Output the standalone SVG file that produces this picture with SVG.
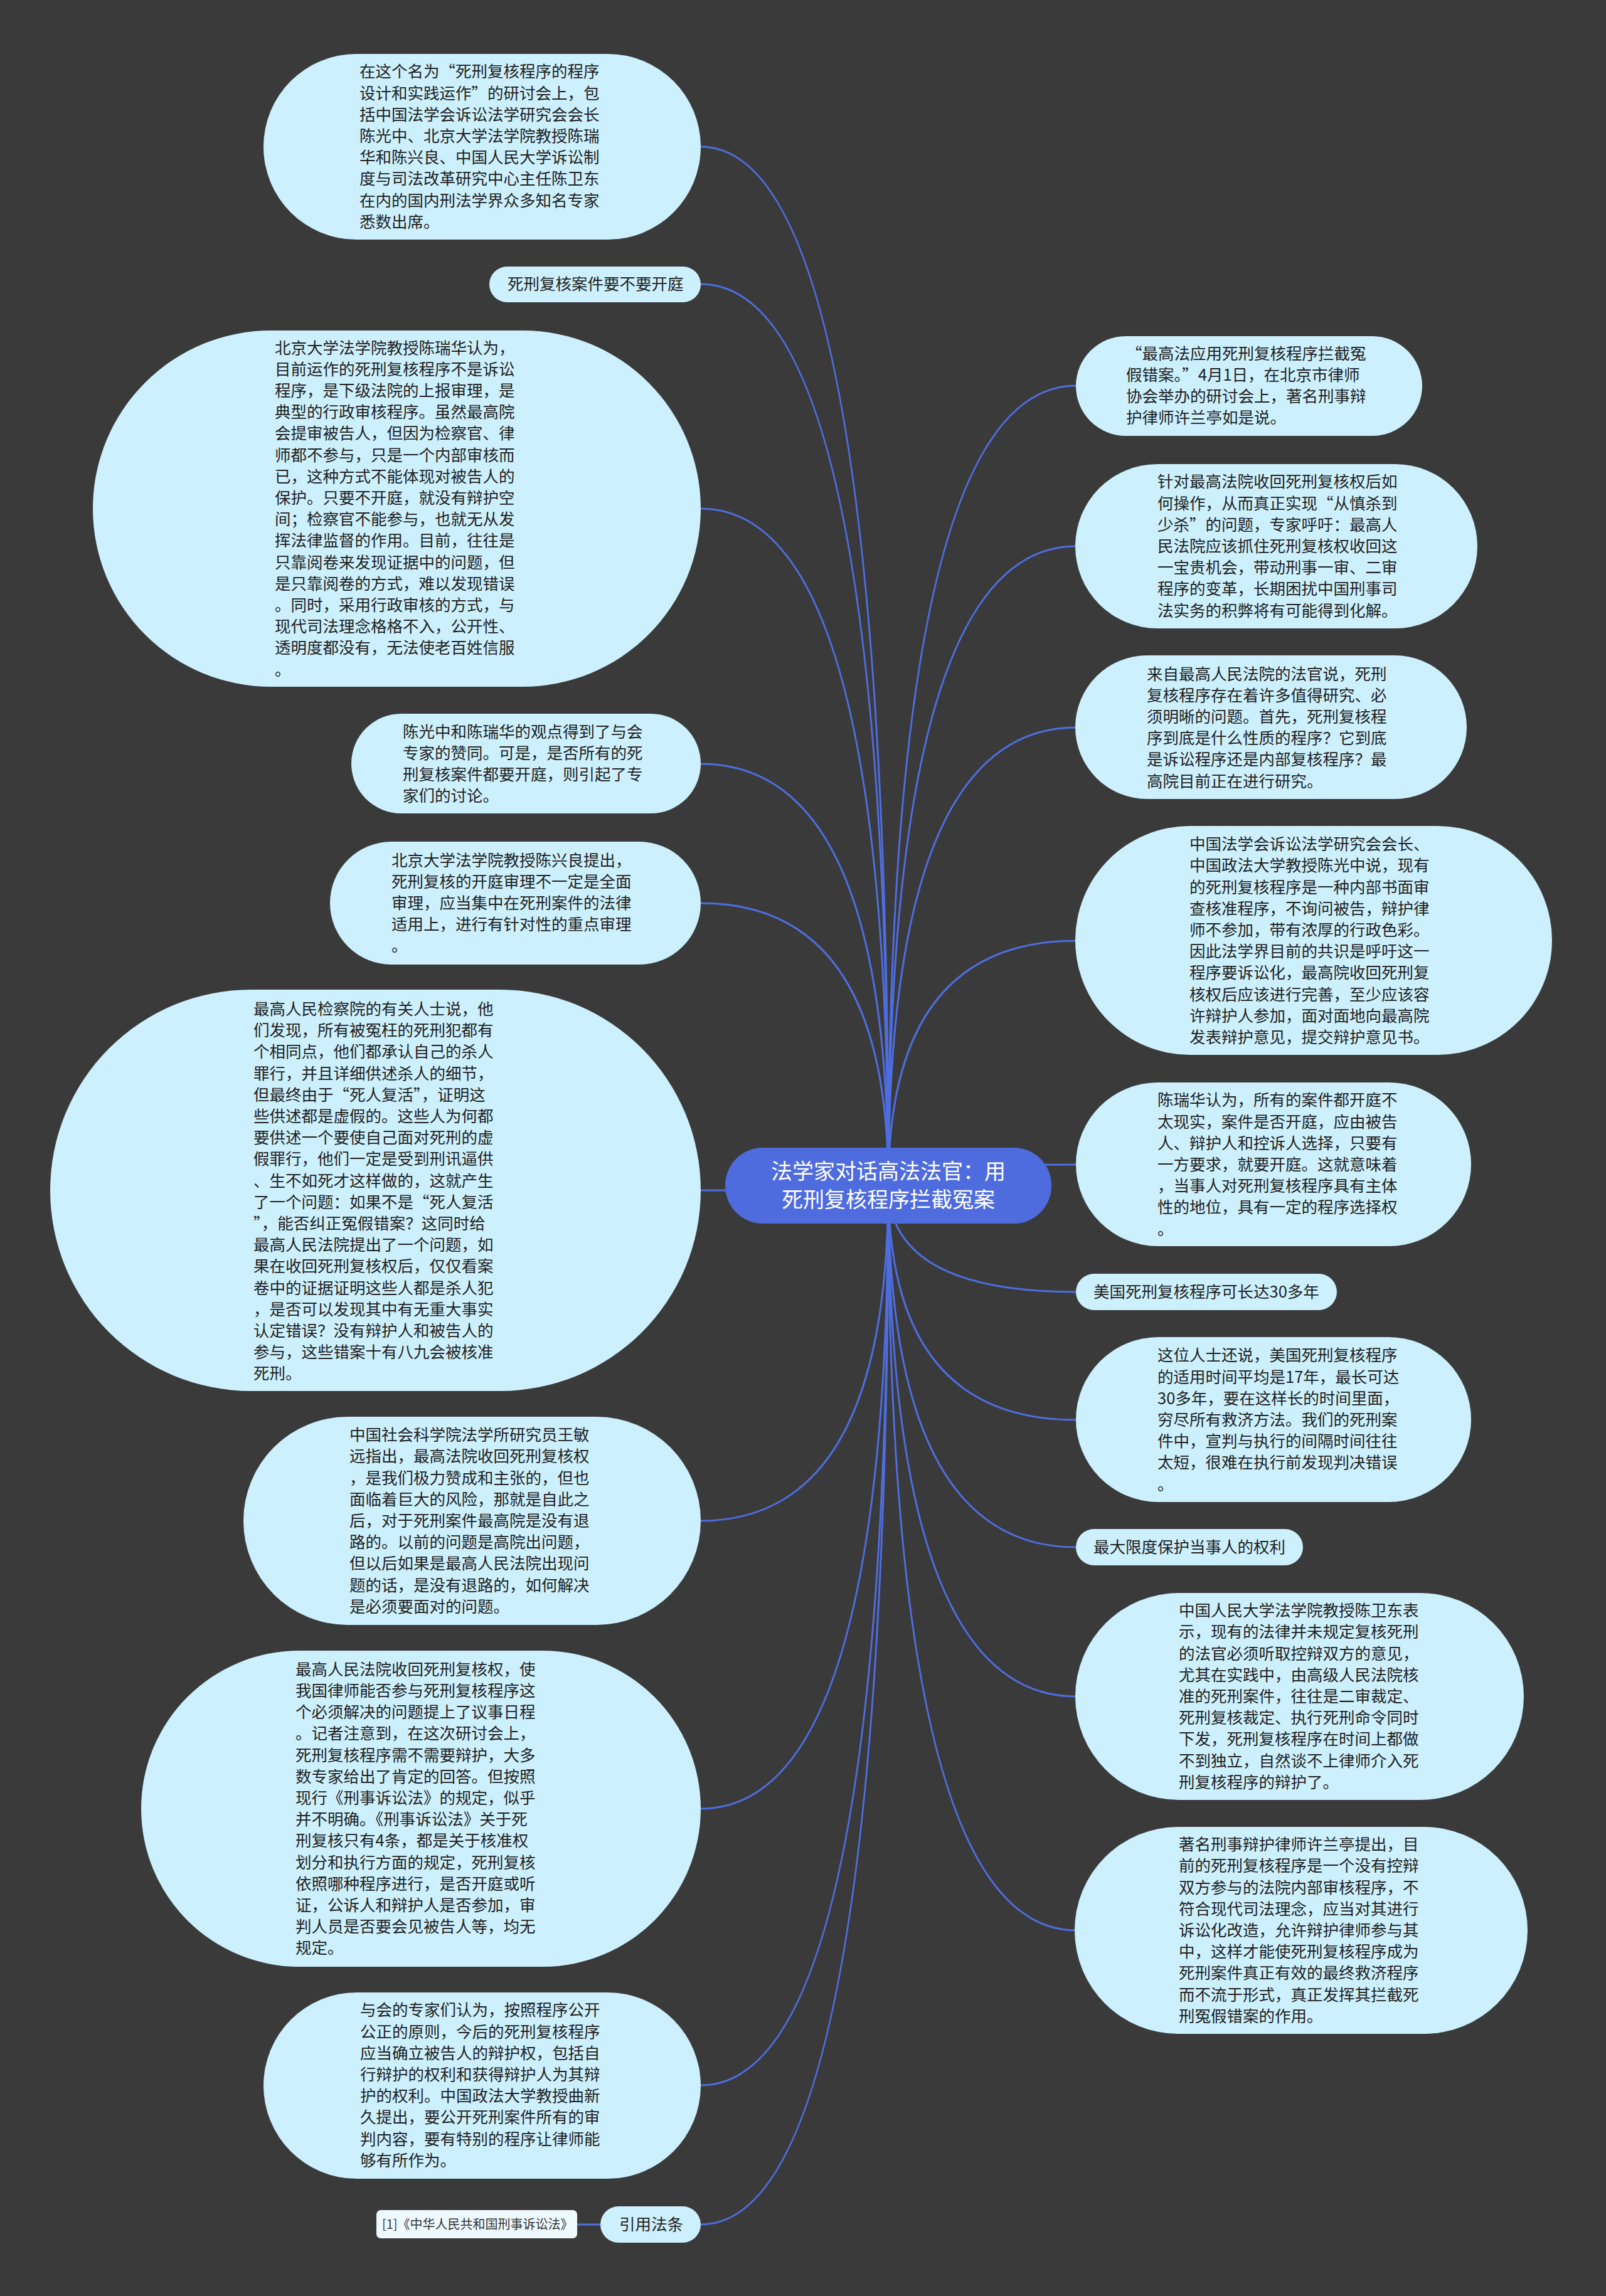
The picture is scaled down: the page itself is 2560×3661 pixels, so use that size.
<svg xmlns="http://www.w3.org/2000/svg" width="2560" height="3661" viewBox="0 0 2560 3661">
<style>
.n{fill:#ccf0fd}
.t{font-family:"Noto Sans CJK SC","Noto Sans",sans-serif;font-size:25.5px;fill:#222}
.ct{font-family:"Noto Sans CJK SC","Noto Sans",sans-serif;font-size:34px;fill:#fff;text-anchor:middle}
.c{fill:none;stroke:#4e6ee0;stroke-width:3}
</style>
<rect width="2560" height="3661" fill="#3a3a3a"/>
<g id="connectors">
<path class="c" d="M1416 1890 Q1416 234 1117 234"/>
<path class="c" d="M1416 1890 Q1416 453 1117 453"/>
<path class="c" d="M1416 1890 Q1416 811 1117 811"/>
<path class="c" d="M1416 1890 Q1416 1218 1117 1218"/>
<path class="c" d="M1416 1890 Q1416 1440 1117 1440"/>
<path class="c" d="M1416 1890 Q1416 1898 1117 1898"/>
<path class="c" d="M1416 1890 Q1416 2425 1117 2425"/>
<path class="c" d="M1416 1890 Q1416 2884 1117 2884"/>
<path class="c" d="M1416 1890 Q1416 3325 1117 3325"/>
<path class="c" d="M1416 1890 Q1416 3547 1117 3547"/>
<path class="c" d="M1416 1890 Q1416 615 1715 615"/>
<path class="c" d="M1416 1890 Q1416 871 1715 871"/>
<path class="c" d="M1416 1890 Q1416 1160 1715 1160"/>
<path class="c" d="M1416 1890 Q1416 1500 1715 1500"/>
<path class="c" d="M1416 1890 Q1416 1857 1715 1857"/>
<path class="c" d="M1416 1890 Q1416 2060 1715 2060"/>
<path class="c" d="M1416 1890 Q1416 2264 1715 2264"/>
<path class="c" d="M1416 1890 Q1416 2467 1715 2467"/>
<path class="c" d="M1416 1890 Q1416 2705 1715 2705"/>
<path class="c" d="M1416 1890 Q1416 3078 1715 3078"/>
<path class="c" d="M957 3547 L920 3547"/>
</g>
<g id="center">
<rect x="1156" y="1830" width="520" height="121" rx="60" fill="#4e6cdd"/>
<text class="ct" x="1416" y="1880">法学家对话高法法官：用</text>
<text class="ct" x="1416" y="1925">死刑复核程序拦截冤案</text>
</g>
<g id="L1">
<rect class="n" x="420" y="86" width="697" height="296" rx="148"/>
<text class="t" x="573" y="123.3"><tspan x="573">在这个名为“死刑复核程序的程序</tspan><tspan x="573" dy="34.2">设计和实践运作”的研讨会上，包</tspan><tspan x="573" dy="34.2">括中国法学会诉讼法学研究会会长</tspan><tspan x="573" dy="34.2">陈光中、北京大学法学院教授陈瑞</tspan><tspan x="573" dy="34.2">华和陈兴良、中国人民大学诉讼制</tspan><tspan x="573" dy="34.2">度与司法改革研究中心主任陈卫东</tspan><tspan x="573" dy="34.2">在内的国内刑法学界众多知名专家</tspan><tspan x="573" dy="34.2">悉数出席。</tspan></text>
</g>
<g id="L2">
<rect class="n" x="780" y="425" width="337" height="57" rx="28.5"/>
<text class="t" x="809" y="462">死刑复核案件要不要开庭</text>
</g>
<g id="L3">
<rect class="n" x="148" y="527" width="969" height="568" rx="284"/>
<text class="t" x="438" y="563.5"><tspan x="438">北京大学法学院教授陈瑞华认为，</tspan><tspan x="438" dy="34.2">目前运作的死刑复核程序不是诉讼</tspan><tspan x="438" dy="34.2">程序，是下级法院的上报审理，是</tspan><tspan x="438" dy="34.2">典型的行政审核程序。虽然最高院</tspan><tspan x="438" dy="34.2">会提审被告人，但因为检察官、律</tspan><tspan x="438" dy="34.2">师都不参与，只是一个内部审核而</tspan><tspan x="438" dy="34.2">已，这种方式不能体现对被告人的</tspan><tspan x="438" dy="34.2">保护。只要不开庭，就没有辩护空</tspan><tspan x="438" dy="34.2">间；检察官不能参与，也就无从发</tspan><tspan x="438" dy="34.2">挥法律监督的作用。目前，往往是</tspan><tspan x="438" dy="34.2">只靠阅卷来发现证据中的问题，但</tspan><tspan x="438" dy="34.2">是只靠阅卷的方式，难以发现错误</tspan><tspan x="438" dy="34.2">。同时，采用行政审核的方式，与</tspan><tspan x="438" dy="34.2">现代司法理念格格不入，公开性、</tspan><tspan x="438" dy="34.2">透明度都没有，无法使老百姓信服</tspan><tspan x="438" dy="34.2">。</tspan></text>
</g>
<g id="L4">
<rect class="n" x="560" y="1138" width="557" height="159" rx="79.5"/>
<text class="t" x="642" y="1175.7"><tspan x="642">陈光中和陈瑞华的观点得到了与会</tspan><tspan x="642" dy="34.2">专家的赞同。可是，是否所有的死</tspan><tspan x="642" dy="34.2">刑复核案件都要开庭，则引起了专</tspan><tspan x="642" dy="34.2">家们的讨论。</tspan></text>
</g>
<g id="L5">
<rect class="n" x="526" y="1342" width="591" height="196" rx="98"/>
<text class="t" x="624" y="1380.6"><tspan x="624">北京大学法学院教授陈兴良提出，</tspan><tspan x="624" dy="34.2">死刑复核的开庭审理不一定是全面</tspan><tspan x="624" dy="34.2">审理，应当集中在死刑案件的法律</tspan><tspan x="624" dy="34.2">适用上，进行有针对性的重点审理</tspan><tspan x="624" dy="34.2">。</tspan></text>
</g>
<g id="L6">
<rect class="n" x="80" y="1578" width="1037" height="640" rx="320"/>
<text class="t" x="404" y="1618"><tspan x="404">最高人民检察院的有关人士说，他</tspan><tspan x="404" dy="34.2">们发现，所有被冤枉的死刑犯都有</tspan><tspan x="404" dy="34.2">个相同点，他们都承认自己的杀人</tspan><tspan x="404" dy="34.2">罪行，并且详细供述杀人的细节，</tspan><tspan x="404" dy="34.2">但最终由于“死人复活”，证明这</tspan><tspan x="404" dy="34.2">些供述都是虚假的。这些人为何都</tspan><tspan x="404" dy="34.2">要供述一个要使自己面对死刑的虚</tspan><tspan x="404" dy="34.2">假罪行，他们一定是受到刑讯逼供</tspan><tspan x="404" dy="34.2">、生不如死才这样做的，这就产生</tspan><tspan x="404" dy="34.2">了一个问题：如果不是“死人复活</tspan><tspan x="404" dy="34.2">”，能否纠正冤假错案？这同时给</tspan><tspan x="404" dy="34.2">最高人民法院提出了一个问题，如</tspan><tspan x="404" dy="34.2">果在收回死刑复核权后，仅仅看案</tspan><tspan x="404" dy="34.2">卷中的证据证明这些人都是杀人犯</tspan><tspan x="404" dy="34.2">，是否可以发现其中有无重大事实</tspan><tspan x="404" dy="34.2">认定错误？没有辩护人和被告人的</tspan><tspan x="404" dy="34.2">参与，这些错案十有八九会被核准</tspan><tspan x="404" dy="34.2">死刑。</tspan></text>
</g>
<g id="L7">
<rect class="n" x="388" y="2259" width="729" height="332" rx="166"/>
<text class="t" x="557" y="2297.2"><tspan x="557">中国社会科学院法学所研究员王敏</tspan><tspan x="557" dy="34.2">远指出，最高法院收回死刑复核权</tspan><tspan x="557" dy="34.2">，是我们极力赞成和主张的，但也</tspan><tspan x="557" dy="34.2">面临着巨大的风险，那就是自此之</tspan><tspan x="557" dy="34.2">后，对于死刑案件最高院是没有退</tspan><tspan x="557" dy="34.2">路的。以前的问题是高院出问题，</tspan><tspan x="557" dy="34.2">但以后如果是最高人民法院出现问</tspan><tspan x="557" dy="34.2">题的话，是没有退路的，如何解决</tspan><tspan x="557" dy="34.2">是必须要面对的问题。</tspan></text>
</g>
<g id="L8">
<rect class="n" x="225" y="2632" width="892" height="504" rx="252"/>
<text class="t" x="471" y="2670.7"><tspan x="471">最高人民法院收回死刑复核权，使</tspan><tspan x="471" dy="34.2">我国律师能否参与死刑复核程序这</tspan><tspan x="471" dy="34.2">个必须解决的问题提上了议事日程</tspan><tspan x="471" dy="34.2">。记者注意到，在这次研讨会上，</tspan><tspan x="471" dy="34.2">死刑复核程序需不需要辩护，大多</tspan><tspan x="471" dy="34.2">数专家给出了肯定的回答。但按照</tspan><tspan x="471" dy="34.2">现行《刑事诉讼法》的规定，似乎</tspan><tspan x="471" dy="34.2">并不明确。《刑事诉讼法》关于死</tspan><tspan x="471" dy="34.2">刑复核只有4条，都是关于核准权</tspan><tspan x="471" dy="34.2">划分和执行方面的规定，死刑复核</tspan><tspan x="471" dy="34.2">依照哪种程序进行，是否开庭或听</tspan><tspan x="471" dy="34.2">证，公诉人和辩护人是否参加，审</tspan><tspan x="471" dy="34.2">判人员是否要会见被告人等，均无</tspan><tspan x="471" dy="34.2">规定。</tspan></text>
</g>
<g id="L9">
<rect class="n" x="420" y="3177" width="697" height="297" rx="148.5"/>
<text class="t" x="574" y="3214.3"><tspan x="574">与会的专家们认为，按照程序公开</tspan><tspan x="574" dy="34.2">公正的原则，今后的死刑复核程序</tspan><tspan x="574" dy="34.2">应当确立被告人的辩护权，包括自</tspan><tspan x="574" dy="34.2">行辩护的权利和获得辩护人为其辩</tspan><tspan x="574" dy="34.2">护的权利。中国政法大学教授曲新</tspan><tspan x="574" dy="34.2">久提出，要公开死刑案件所有的审</tspan><tspan x="574" dy="34.2">判内容，要有特别的程序让律师能</tspan><tspan x="574" dy="34.2">够有所作为。</tspan></text>
</g>
<g id="L10">
<rect class="n" x="957" y="3518" width="160" height="58" rx="29"/>
<text class="t" x="987" y="3556">引用法条</text>
</g>
<g id="L10ref">
<rect x="600" y="3524" width="320" height="45" rx="7" fill="#eefaff"/>
<text class="t" x="609" y="3554" style="font-size:20px;fill:#333">[1]《中华人民共和国刑事诉讼法》</text>
</g>
<g id="Ra">
<rect class="n" x="1715" y="536" width="552" height="159" rx="79.5"/>
<text class="t" x="1795" y="572.7"><tspan x="1795">“最高法应用死刑复核程序拦截冤</tspan><tspan x="1795" dy="34.2">假错案。”4月1日，在北京市律师</tspan><tspan x="1795" dy="34.2">协会举办的研讨会上，著名刑事辩</tspan><tspan x="1795" dy="34.2">护律师许兰亭如是说。</tspan></text>
</g>
<g id="Rb">
<rect class="n" x="1714" y="740" width="641" height="262" rx="131"/>
<text class="t" x="1845" y="777.4"><tspan x="1845">针对最高法院收回死刑复核权后如</tspan><tspan x="1845" dy="34.2">何操作，从而真正实现“从慎杀到</tspan><tspan x="1845" dy="34.2">少杀”的问题，专家呼吁：最高人</tspan><tspan x="1845" dy="34.2">民法院应该抓住死刑复核权收回这</tspan><tspan x="1845" dy="34.2">一宝贵机会，带动刑事一审、二审</tspan><tspan x="1845" dy="34.2">程序的变革，长期困扰中国刑事司</tspan><tspan x="1845" dy="34.2">法实务的积弊将有可能得到化解。</tspan></text>
</g>
<g id="Rc">
<rect class="n" x="1714" y="1045" width="624" height="229" rx="114.5"/>
<text class="t" x="1828" y="1083.5"><tspan x="1828">来自最高人民法院的法官说，死刑</tspan><tspan x="1828" dy="34.2">复核程序存在着许多值得研究、必</tspan><tspan x="1828" dy="34.2">须明晰的问题。首先，死刑复核程</tspan><tspan x="1828" dy="34.2">序到底是什么性质的程序？它到底</tspan><tspan x="1828" dy="34.2">是诉讼程序还是内部复核程序？最</tspan><tspan x="1828" dy="34.2">高院目前正在进行研究。</tspan></text>
</g>
<g id="Rd">
<rect class="n" x="1714" y="1317" width="760" height="365" rx="182.5"/>
<text class="t" x="1896" y="1355.1"><tspan x="1896">中国法学会诉讼法学研究会会长、</tspan><tspan x="1896" dy="34.2">中国政法大学教授陈光中说，现有</tspan><tspan x="1896" dy="34.2">的死刑复核程序是一种内部书面审</tspan><tspan x="1896" dy="34.2">查核准程序，不询问被告，辩护律</tspan><tspan x="1896" dy="34.2">师不参加，带有浓厚的行政色彩。</tspan><tspan x="1896" dy="34.2">因此法学界目前的共识是呼吁这一</tspan><tspan x="1896" dy="34.2">程序要诉讼化，最高院收回死刑复</tspan><tspan x="1896" dy="34.2">核权后应该进行完善，至少应该容</tspan><tspan x="1896" dy="34.2">许辩护人参加，面对面地向最高院</tspan><tspan x="1896" dy="34.2">发表辩护意见，提交辩护意见书。</tspan></text>
</g>
<g id="Re">
<rect class="n" x="1715" y="1726" width="630" height="261" rx="130.5"/>
<text class="t" x="1845" y="1763.4"><tspan x="1845">陈瑞华认为，所有的案件都开庭不</tspan><tspan x="1845" dy="34.2">太现实，案件是否开庭，应由被告</tspan><tspan x="1845" dy="34.2">人、辩护人和控诉人选择，只要有</tspan><tspan x="1845" dy="34.2">一方要求，就要开庭。这就意味着</tspan><tspan x="1845" dy="34.2">，当事人对死刑复核程序具有主体</tspan><tspan x="1845" dy="34.2">性的地位，具有一定的程序选择权</tspan><tspan x="1845" dy="34.2">。</tspan></text>
</g>
<g id="Rf">
<rect class="n" x="1715" y="2031" width="416" height="58" rx="29"/>
<text class="t" x="1743" y="2069">美国死刑复核程序可长达30多年</text>
</g>
<g id="Rg">
<rect class="n" x="1715" y="2132" width="630" height="263" rx="131.5"/>
<text class="t" x="1845" y="2170.4"><tspan x="1845">这位人士还说，美国死刑复核程序</tspan><tspan x="1845" dy="34.2">的适用时间平均是17年，最长可达</tspan><tspan x="1845" dy="34.2">30多年，要在这样长的时间里面，</tspan><tspan x="1845" dy="34.2">穷尽所有救济方法。我们的死刑案</tspan><tspan x="1845" dy="34.2">件中，宣判与执行的间隔时间往往</tspan><tspan x="1845" dy="34.2">太短，很难在执行前发现判决错误</tspan><tspan x="1845" dy="34.2">。</tspan></text>
</g>
<g id="Rh">
<rect class="n" x="1715" y="2438" width="362" height="58" rx="29"/>
<text class="t" x="1743" y="2476">最大限度保护当事人的权利</text>
</g>
<g id="Ri">
<rect class="n" x="1714" y="2540" width="715" height="330" rx="165"/>
<text class="t" x="1879" y="2577.2"><tspan x="1879">中国人民大学法学院教授陈卫东表</tspan><tspan x="1879" dy="34.2">示，现有的法律并未规定复核死刑</tspan><tspan x="1879" dy="34.2">的法官必须听取控辩双方的意见，</tspan><tspan x="1879" dy="34.2">尤其在实践中，由高级人民法院核</tspan><tspan x="1879" dy="34.2">准的死刑案件，往往是二审裁定、</tspan><tspan x="1879" dy="34.2">死刑复核裁定、执行死刑命令同时</tspan><tspan x="1879" dy="34.2">下发，死刑复核程序在时间上都做</tspan><tspan x="1879" dy="34.2">不到独立，自然谈不上律师介入死</tspan><tspan x="1879" dy="34.2">刑复核程序的辩护了。</tspan></text>
</g>
<g id="Rj">
<rect class="n" x="1713" y="2913" width="722" height="330" rx="165"/>
<text class="t" x="1879" y="2950.2"><tspan x="1879">著名刑事辩护律师许兰亭提出，目</tspan><tspan x="1879" dy="34.2">前的死刑复核程序是一个没有控辩</tspan><tspan x="1879" dy="34.2">双方参与的法院内部审核程序，不</tspan><tspan x="1879" dy="34.2">符合现代司法理念，应当对其进行</tspan><tspan x="1879" dy="34.2">诉讼化改造，允许辩护律师参与其</tspan><tspan x="1879" dy="34.2">中，这样才能使死刑复核程序成为</tspan><tspan x="1879" dy="34.2">死刑案件真正有效的最终救济程序</tspan><tspan x="1879" dy="34.2">而不流于形式，真正发挥其拦截死</tspan><tspan x="1879" dy="34.2">刑冤假错案的作用。</tspan></text>
</g>
</svg>
